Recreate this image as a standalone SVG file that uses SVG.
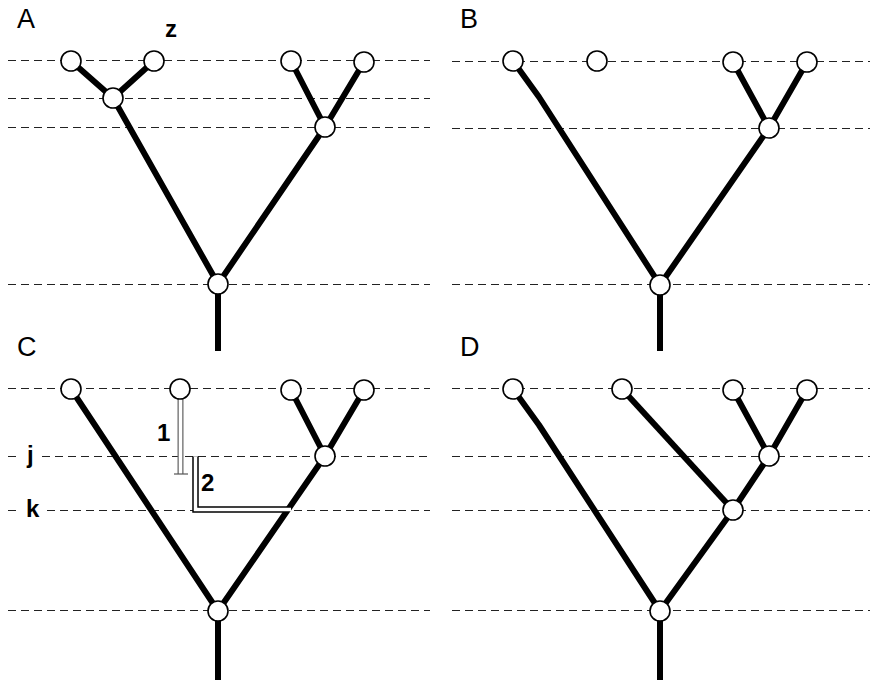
<svg xmlns="http://www.w3.org/2000/svg" width="876" height="680" viewBox="0 0 876 680">
  <style>
    .grid { stroke: #222; stroke-width: 1; stroke-dasharray: 8 5; fill: none; }
    .branch { stroke: #000; stroke-width: 6; fill: none; stroke-linejoin: round; }
    .node { fill: #fff; stroke: #000; stroke-width: 1.6; }
    .panel { font-family: "Liberation Sans", Arial, sans-serif; font-size: 27px; fill: #000; }
    .lbl { font-family: "Liberation Sans", Arial, sans-serif; font-size: 24px; font-weight: bold; fill: #000; }
    .dbl-outer { stroke: #000; stroke-width: 6.5; fill: none; }
    .dbl-inner { stroke: #fff; stroke-width: 3.5; fill: none; }
    .grey-outer { stroke: #666; stroke-width: 6; fill: none; }
    .grey-inner { stroke: #fff; stroke-width: 3.5; fill: none; }
  </style>

  <!-- time levels (dashed guides), offset half a pixel for crisp 1px strokes -->
  <g id="guides" transform="translate(0,0.5)">
    <line class="grid" x1="8" y1="60" x2="430" y2="60"/>
    <line class="grid" x1="8" y1="98" x2="430" y2="98"/>
    <line class="grid" x1="8" y1="127" x2="430" y2="127"/>
    <line class="grid" x1="8" y1="284" x2="430" y2="284"/>

    <line class="grid" x1="452" y1="61" x2="870" y2="61"/>
    <line class="grid" x1="452" y1="128" x2="870" y2="128"/>
    <line class="grid" x1="452" y1="284" x2="870" y2="284"/>

    <line class="grid" x1="8" y1="388" x2="430" y2="388"/>
    <line class="grid" x1="8" y1="456" x2="17" y2="456"/>
    <line class="grid" x1="42" y1="456" x2="430" y2="456"/>
    <line class="grid" x1="8" y1="510" x2="17" y2="510"/>
    <line class="grid" x1="47" y1="510" x2="430" y2="510"/>
    <line class="grid" x1="8" y1="610" x2="430" y2="610"/>

    <line class="grid" x1="452" y1="388" x2="870" y2="388"/>
    <line class="grid" x1="452" y1="456" x2="870" y2="456"/>
    <line class="grid" x1="452" y1="510" x2="870" y2="510"/>
    <line class="grid" x1="452" y1="610" x2="870" y2="610"/>
  </g>

  <!-- tree branches -->
  <g id="connectors">
    <!-- A -->
    <polyline class="branch" points="71,61 113,98 154,61"/>
    <polyline class="branch" points="113,98 218,284 325,127"/>
    <polyline class="branch" points="291,61 325,127 364,62"/>
    <line class="branch" x1="218" y1="284" x2="218" y2="351"/>
    <!-- B -->
    <polyline class="branch" points="513,61 539,97 660,285 769,128"/>
    <polyline class="branch" points="733,62 769,128 807,62"/>
    <line class="branch" x1="660" y1="285" x2="660" y2="351"/>
    <!-- C -->
    <polyline class="branch" points="71,389 218,611 325,456"/>
    <polyline class="branch" points="291,390 325,456 364,390"/>
    <line class="branch" x1="218" y1="611" x2="218" y2="680"/>
    <!-- C: lineage paths 1 and 2 -->
    <line class="grey-outer" x1="180.5" y1="398" x2="180.5" y2="474"/>
    <line class="grey-inner" x1="180.5" y1="398" x2="180.5" y2="474"/>
    <line x1="174" y1="474" x2="188" y2="474" stroke="#555" stroke-width="1.2"/>
    <polyline class="dbl-outer" points="195.5,456.5 195.5,509.5 289,509.5"/>
    <polyline class="dbl-inner" points="195.5,456.5 195.5,509.5 291,509.5"/>
    <!-- D -->
    <polyline class="branch" points="513,389 539,425 660,611 733,510 769,456"/>
    <line class="branch" x1="622" y1="389" x2="733" y2="510"/>
    <polyline class="branch" points="733,390 769,456 807,390"/>
    <line class="branch" x1="660" y1="611" x2="660" y2="680"/>
  </g>

  <!-- nodes -->
  <g id="nodes-A">
    <circle class="node" cx="71" cy="61" r="10"/>
    <circle class="node" cx="154" cy="61" r="10"/>
    <circle class="node" cx="291" cy="61" r="10"/>
    <circle class="node" cx="364" cy="62" r="10"/>
    <circle class="node" cx="113" cy="98" r="10"/>
    <circle class="node" cx="325" cy="127" r="10"/>
    <circle class="node" cx="218" cy="284" r="10"/>
  </g>
  <g id="nodes-B">
    <circle class="node" cx="513" cy="61" r="10"/>
    <circle class="node" cx="597" cy="61" r="10"/>
    <circle class="node" cx="733" cy="62" r="10"/>
    <circle class="node" cx="807" cy="62" r="10"/>
    <circle class="node" cx="769" cy="128" r="10"/>
    <circle class="node" cx="660" cy="285" r="10"/>
  </g>
  <g id="nodes-C">
    <circle class="node" cx="71" cy="389" r="10"/>
    <circle class="node" cx="180" cy="389" r="10"/>
    <circle class="node" cx="291" cy="390" r="10"/>
    <circle class="node" cx="364" cy="390" r="10"/>
    <circle class="node" cx="325" cy="456" r="10"/>
    <circle class="node" cx="218" cy="611" r="10"/>
  </g>
  <g id="nodes-D">
    <circle class="node" cx="513" cy="389" r="10"/>
    <circle class="node" cx="622" cy="389" r="10"/>
    <circle class="node" cx="733" cy="390" r="10"/>
    <circle class="node" cx="807" cy="390" r="10"/>
    <circle class="node" cx="769" cy="456" r="10"/>
    <circle class="node" cx="733" cy="510" r="10"/>
    <circle class="node" cx="660" cy="611" r="10"/>
  </g>

  <!-- labels -->
  <g id="labels">
    <text class="panel" x="17" y="28">A</text>
    <text class="panel" x="460" y="28">B</text>
    <text class="panel" x="17" y="356">C</text>
    <text class="panel" x="460" y="356">D</text>
    <text class="lbl" x="165" y="37">z</text>
    <text class="lbl" x="157" y="441">1</text>
    <text class="lbl" x="201" y="491">2</text>
    <text class="lbl" x="27" y="463">j</text>
    <text class="lbl" x="26" y="517">k</text>
  </g>
</svg>
